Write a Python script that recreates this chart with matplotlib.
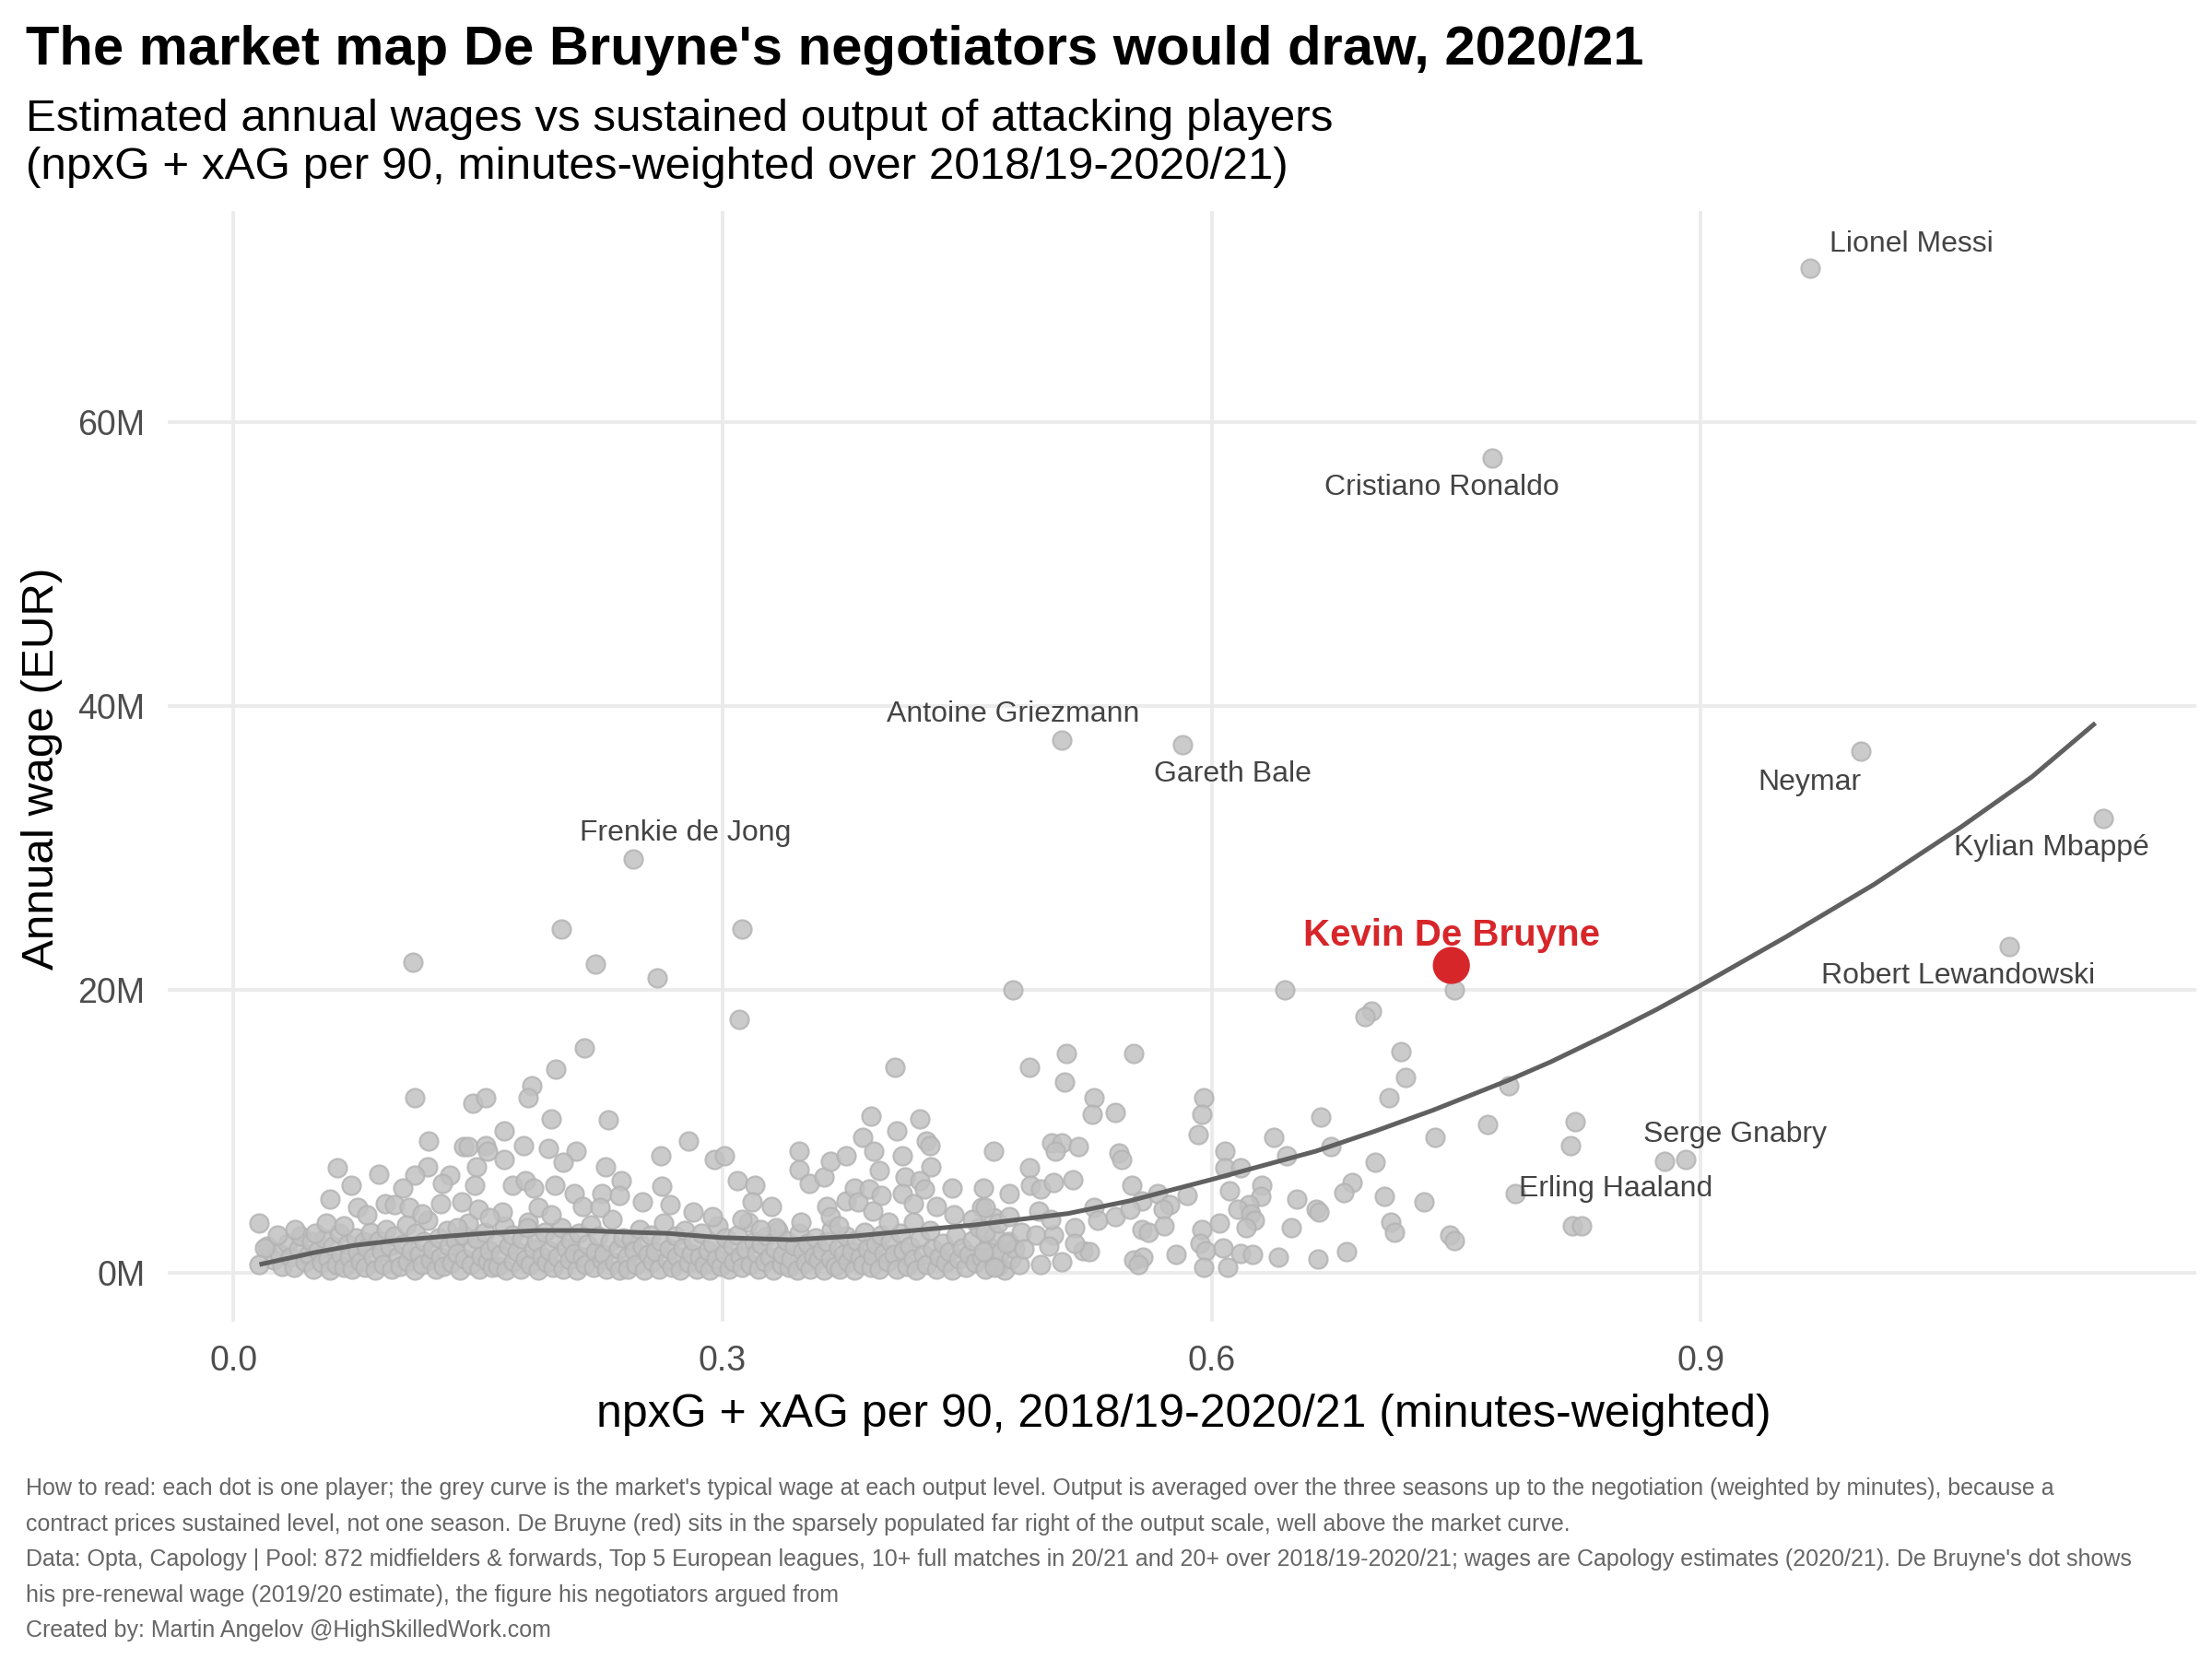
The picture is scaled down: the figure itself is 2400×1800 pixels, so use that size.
import matplotlib
matplotlib.use("Agg")
import matplotlib.pyplot as plt
import numpy as np

plt.rcParams['font.family'] = ['Liberation Sans', 'DejaVu Sans']

# ---- data (x = npxG+xAG per 90, y = wage in M EUR) ----
# dense low-wage band
band_x = [0.021,0.025,0.028,0.030,0.033,0.035,0.037,0.040,0.041,0.044,
          0.046,0.048,0.049,0.052,0.054,0.056,0.058,0.059,0.061,0.063,
          0.065,0.066,0.068,0.070,0.071,0.073,0.075,0.076,0.078,0.080,
          0.081,0.082,0.084,0.086,0.087,0.089,0.091,0.092,0.094,0.096,
          0.097,0.099,0.101,0.102,0.104,0.106,0.107,0.109,0.111,0.112,
          0.114,0.116,0.117,0.119,0.121,0.122,0.124,0.126,0.127,0.129,
          0.131,0.132,0.134,0.136,0.137,0.139,0.141,0.142,0.144,0.146,
          0.147,0.149,0.151,0.152,0.154,0.156,0.157,0.159,
          0.161,0.162,0.164,0.166,0.167,0.169,0.171,0.172,0.174,0.176,
          0.177,0.179,0.181,0.182,0.184,0.186,0.187,0.189,0.191,0.192,
          0.194,0.196,0.197,0.199,0.201,0.202,0.204,0.206,0.207,0.209,
          0.211,0.212,0.214,0.216,0.217,0.219,0.221,0.222,0.224,0.226,
          0.227,0.229,0.231,0.232,0.234,0.236,0.237,0.239,
          0.241,0.242,0.244,0.246,0.247,0.249,0.251,0.252,0.254,0.256,
          0.257,0.259,0.261,0.262,0.264,0.266,0.267,0.269,0.271,0.272,
          0.274,0.276,0.277,0.279,0.281,0.282,0.284,0.286,0.287,0.289,
          0.291,0.292,0.294,0.296,0.297,0.299,0.301,0.302,0.304,0.306,
          0.307,0.309,0.311,0.312,0.314,0.316,0.317,0.319,
          0.321,0.322,0.324,0.326,0.327,0.329,0.331,0.332,0.334,0.336,
          0.337,0.339,0.341,0.342,0.344,0.346,0.347,0.349,0.351,0.352,
          0.354,0.356,0.357,0.359,0.361,0.362,0.364,0.366,0.367,0.369,
          0.371,0.372,0.374,0.376,0.377,0.379,0.381,0.382,0.384,0.386,
          0.387,0.389,0.391,0.392,0.394,0.396,0.397,0.399,
          0.401,0.403,0.405,0.407,0.409,0.411,0.413,0.415,0.417,0.419,
          0.421,0.423,0.425,0.427,0.429,0.431,0.433,0.435,0.437,0.439,
          0.441,0.443,0.445,0.447,0.449,0.451,0.453,0.455,0.457,0.459,
          0.461,0.463,0.465,0.467,0.469,0.471,0.473,0.475,0.477,0.479]
band_y = [1.9,0.9,1.4,0.5,2.1,1.1,0.4,1.7,2.6,0.8,
          1.3,2.2,0.3,1.6,0.7,2.4,1.0,0.2,1.9,0.6,
          2.8,1.3,0.4,2.0,1.1,0.3,2.5,1.5,0.8,2.2,
          0.4,1.8,2.9,1.1,0.2,2.3,1.5,0.6,3.1,1.9,
          0.3,2.6,1.2,0.5,2.0,3.4,0.8,1.6,0.2,2.8,
          1.3,0.6,2.2,3.7,0.9,1.7,0.3,2.5,1.1,0.5,
          3.0,1.9,0.7,2.3,1.4,0.2,2.7,1.0,3.5,0.6,
          1.8,2.4,0.3,1.2,2.9,0.8,1.6,0.4,
          2.1,0.5,1.3,3.3,0.2,1.9,2.7,0.8,1.5,0.3,
          2.4,1.0,3.6,0.6,1.7,2.2,0.2,1.2,2.9,0.7,
          1.6,0.4,2.5,1.1,3.2,0.3,1.8,0.9,2.3,1.4,
          0.2,2.8,1.1,0.6,2.0,3.4,0.4,1.5,2.6,0.9,
          1.3,0.3,2.2,3.8,0.7,1.7,0.2,2.5,
          1.1,0.3,2.4,1.6,0.6,3.1,1.9,0.2,1.3,2.7,
          0.8,1.5,0.3,2.2,3.5,0.9,1.7,0.4,2.6,1.2,
          0.2,1.8,3.0,0.7,1.4,2.3,0.3,1.1,2.8,0.6,
          1.6,0.2,2.1,1.0,3.3,0.5,1.4,2.5,0.3,1.9,
          0.8,2.7,1.2,0.4,1.7,3.6,0.6,2.2,
          1.4,0.3,2.0,0.8,2.6,1.1,0.2,1.7,3.0,0.6,
          1.3,2.3,0.4,1.0,1.9,0.2,2.8,1.5,0.7,2.1,
          0.3,1.2,2.5,0.9,1.6,0.2,2.2,1.0,3.1,0.5,
          1.8,0.3,1.3,2.6,0.8,1.5,0.2,2.3,1.1,0.6,
          2.9,1.7,0.4,1.2,2.0,0.3,2.7,1.4,
          0.8,2.2,1.3,0.3,2.8,1.6,0.5,1.9,1.0,0.2,
          2.4,1.3,0.6,3.0,1.7,0.3,1.1,2.1,0.7,1.5,
          0.2,2.6,1.0,1.8,0.4,1.3,2.3,0.7,3.2,1.1,
          0.3,1.9,1.2,2.7,0.5,1.5,0.2,2.2,1.0,1.7]

# scattered players above the band
low_x = [0.110,0.201,0.222,0.215,0.198,0.183,0.181,0.111,0.147,0.155,
         0.195,0.230,0.166,0.120,0.141,0.144,0.155,0.156,0.178,0.193,
         0.210,0.202,0.166,0.149,0.119,0.064,0.089,0.228,0.111,0.133,
         0.072,0.104,0.128,0.148,0.171,0.179,0.184,0.197,0.209,0.226,
         0.059,0.076,0.093,0.099,0.108,0.127,0.140,0.150,0.165,0.187,
         0.195,0.214,0.225,0.016,0.027,0.038,0.050,0.057,0.068,0.082,
         0.116,0.137,0.157,0.180,0.019,0.016]
low_y = [21.9,24.3,21.8,15.9,14.4,13.2,12.4,12.4,12.0,12.4,
         10.9,10.8,10.0,9.3,8.9,8.9,9.0,8.6,9.0,8.8,
         8.6,7.8,8.0,7.5,7.5,7.4,7.0,7.5,6.9,6.9,
         6.2,6.0,6.3,6.2,6.2,6.5,6.0,6.2,5.6,5.6,
         5.2,4.6,4.9,4.8,4.6,4.9,5.0,4.5,4.3,4.6,
         4.1,4.7,4.6,3.5,2.7,3.1,2.8,3.5,3.3,4.1,
         4.2,3.2,3.9,3.2,1.8,0.6]

mid_x = [0.312,0.260,0.310,0.406,0.279,0.262,0.295,0.301,0.347,0.347,
         0.353,0.362,0.366,0.376,0.386,0.391,0.393,0.396,0.407,0.410,
         0.421,0.425,0.427,0.412,0.428,0.421,0.424,0.410,0.417,0.441,
         0.460,0.466,0.459,0.238,0.237,0.263,0.251,0.268,0.282,0.294,
         0.309,0.320,0.318,0.330,0.333,0.312,0.323,0.348,0.364,0.366,
         0.371,0.376,0.381,0.383,0.390,0.397,0.392,0.402,0.417,0.431,
         0.442,0.453,0.466]
mid_y = [24.3,20.8,17.9,14.5,9.3,8.3,8.0,8.3,8.6,7.3,
         6.3,6.8,7.9,8.3,9.6,11.1,8.6,7.2,10.0,8.3,
         10.9,9.3,9.0,6.8,7.5,6.5,5.9,5.6,4.9,6.0,
         6.0,8.6,4.6,6.5,5.5,6.1,5.0,4.8,4.3,4.0,
         6.5,6.2,5.0,4.7,3.2,3.8,3.1,3.6,4.7,4.0,
         3.3,5.1,6.0,5.0,5.9,5.5,4.4,3.6,3.6,4.7,
         4.1,3.8,3.9]

right_x = [0.478,0.645,0.511,0.552,0.488,0.510,0.528,0.527,0.541,0.595,
           0.594,0.592,0.667,0.502,0.508,0.504,0.518,0.543,0.545,0.488,
           0.608,0.608,0.618,0.638,0.646,0.673,0.476,0.489,0.495,0.503,
           0.515,0.551,0.557,0.567,0.574,0.570,0.585,0.611,0.631,0.630,
           0.623,0.616,0.624,0.626,0.621,0.652,0.664,0.666,0.686,0.681,
           0.649,0.528,0.530,0.541,0.550,0.516,0.557,0.561,0.571,0.594,
           0.593,0.596,0.595,0.605,0.607,0.610,0.618,0.625,0.641,0.665,
           0.683,0.578,0.552,0.558,0.555,0.521,0.525,0.508,0.495,0.482,
           0.467,0.460,0.474,0.483,0.492,0.503,0.516,0.500,0.485,0.461,
           0.469,0.461,0.476,0.494,0.501]
right_y = [20.0,20.0,15.5,15.5,14.5,13.5,12.4,11.2,11.3,12.4,
           11.2,9.8,11.0,9.2,9.2,8.6,8.9,8.5,8.0,7.4,
           8.6,7.4,7.4,9.6,8.3,8.9,5.6,6.2,5.9,6.4,
           6.6,6.2,5.1,5.6,4.8,4.5,5.5,5.8,6.2,5.4,
           4.8,4.5,4.2,3.7,3.2,5.2,4.5,4.3,6.4,5.7,
           3.2,4.6,3.7,4.0,4.5,3.2,3.1,2.9,3.3,3.1,
           2.1,1.6,0.4,3.5,1.8,0.4,1.4,1.3,1.1,1.0,
           1.5,1.3,0.9,1.1,0.6,1.6,1.5,0.8,0.6,0.6,
           0.4,1.5,2.1,2.9,2.7,2.7,2.1,1.9,1.7,2.9,
           3.5,4.6,4.0,4.4,3.8]

far_x = [0.749,0.698,0.694,0.716,0.719,0.709,0.782,0.769,0.737,0.823,
         0.820,0.700,0.706,0.730,0.710,0.712,0.746,0.749,0.786,0.821,
         0.827,0.878,0.891]
far_y = [20.0,18.5,18.1,15.6,13.8,12.4,13.2,10.5,9.6,10.7,
         9.0,7.8,5.4,5.0,3.6,2.9,2.7,2.3,5.6,3.3,
         3.3,7.9,8.0]

# named players (Gnabry and Haaland dots are in far_x / far_y)
star_names = ["Lionel Messi", "Cristiano Ronaldo", "Antoine Griezmann", "Gareth Bale",
              "Neymar", "Kylian Mbappé", "Frenkie de Jong", "Robert Lewandowski"]
star_x = [0.967, 0.772, 0.508, 0.582, 0.998, 1.147, 0.2455, 1.089]
star_y = [70.9, 57.5, 37.6, 37.3, 36.8, 32.1, 29.2, 23.05]

label_names = star_names + ["Serge Gnabry", "Erling Haaland"]
label_x = [1.029, 0.741, 0.478, 0.613, 0.967, 1.115, 0.277, 1.058, 0.921, 0.848]
label_y = [72.6, 55.4, 39.4, 35.2, 34.6, 30.0, 31.0, 20.95, 9.8, 5.9]

kdb_x, kdb_y = 0.747, 21.7

# market curve (typical wage at each output level)
curve_x = [0.016,0.050,0.074,0.100,0.131,0.160,0.187,0.214,0.237,0.266,
           0.299,0.342,0.380,0.417,0.455,0.512,0.550,0.600,0.632,0.664,
           0.700,0.736,0.782,0.808,0.844,0.873,0.900,0.952,1.006,1.060,
           1.103,1.142]
curve_y = [0.6,1.45,1.95,2.3,2.6,2.85,3.0,3.0,2.9,2.8,
           2.5,2.35,2.6,3.0,3.4,4.2,5.1,6.6,7.6,8.6,
           10.0,11.5,13.6,14.9,16.9,18.6,20.3,23.7,27.4,31.5,
           35.0,38.8]

grey_x = band_x + low_x + mid_x + right_x + far_x + star_x
grey_y = band_y + low_y + mid_y + right_y + far_y + star_y

fig = plt.figure(figsize=(12, 9), dpi=200)
ax = fig.add_axes([0.076, 0.2036, 0.917, 0.669])

ax.scatter(grey_x, grey_y, s=52, facecolor='#c2c2c2', edgecolors='#b4b4b4',
           linewidths=0.8, alpha=0.85, zorder=2)
ax.plot(curve_x, curve_y, color='#606060', lw=1.8, zorder=3,
        solid_joinstyle='round', solid_capstyle='butt')
ax.scatter([kdb_x], [kdb_y], s=210, color='#d7262a', edgecolors='none', zorder=4)

for name, lx, ly in zip(label_names, label_x, label_y):
    ax.text(lx, ly, name, ha='center', va='center', fontsize=11.5, color='#444444', zorder=5)
ax.text(0.747, 23.8, "Kevin De Bruyne", ha='center', va='center', fontsize=14.5,
        fontweight='bold', color='#d7262a', zorder=5)

ax.set_xlim(-0.040, 1.204)
ax.set_ylim(-3.4, 74.9)
ax.set_xticks([0.0, 0.3, 0.6, 0.9])
ax.set_xticklabels(["0.0", "0.3", "0.6", "0.9"])
ax.set_yticks([0, 20, 40, 60])
ax.set_yticklabels(["0M", "20M", "40M", "60M"])
ax.tick_params(length=0, labelsize=13.5, labelcolor='#4d4d4d')
ax.tick_params(axis='x', pad=9)
ax.tick_params(axis='y', pad=9)
ax.grid(True, color='#ebebeb', lw=1.4, zorder=0)
ax.set_axisbelow(True)
for sp in ax.spines.values():
    sp.set_visible(False)

fig.text(0.0115, 0.970, "The market map De Bruyne's negotiators would draw, 2020/21",
         fontsize=21.5, fontweight='bold', ha='left', va='center')
fig.text(0.0115, 0.9135, "Estimated annual wages vs sustained output of attacking players\n"
         "(npxG + xAG per 90, minutes-weighted over 2018/19-2020/21)",
         fontsize=17.8, ha='left', va='center', linespacing=1.2)

fig.text(0.535, 0.147, "npxG + xAG per 90, 2018/19-2020/21 (minutes-weighted)",
         fontsize=18, ha='center', va='center')
fig.text(0.019, 0.5365, "Annual wage (EUR)", fontsize=17.8, rotation=90, ha='center', va='center')

caption_lines = [
    "How to read: each dot is one player; the grey curve is the market's typical wage at each output level. Output is averaged over the three seasons up to the negotiation (weighted by minutes), because a",
    "contract prices sustained level, not one season. De Bruyne (red) sits in the sparsely populated far right of the output scale, well above the market curve.",
    "Data: Opta, Capology | Pool: 872 midfielders & forwards, Top 5 European leagues, 10+ full matches in 20/21 and 20+ over 2018/19-2020/21; wages are Capology estimates (2020/21). De Bruyne's dot shows",
    "his pre-renewal wage (2019/20 estimate), the figure his negotiators argued from",
    "Created by: Martin Angelov @HighSkilledWork.com",
]
caption_y = [0.1026, 0.0812, 0.0598, 0.0385, 0.0171]
for line, cy in zip(caption_lines, caption_y):
    fig.text(0.0115, cy, line, fontsize=9, color='#666666', ha='left', va='center')

fig.savefig("out.png", dpi=200, facecolor='white')
